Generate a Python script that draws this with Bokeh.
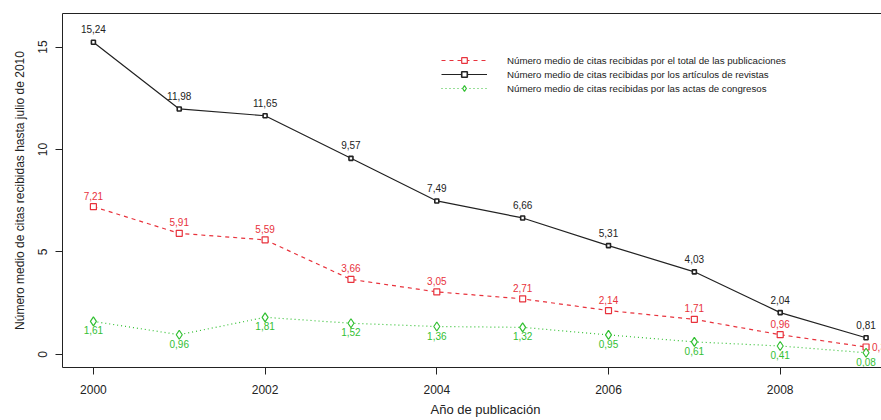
from bokeh.plotting import figure
from bokeh.models import (Range1d, FixedTicker, LinearAxis, Legend, LegendItem,
                          ColumnDataSource, Title)
from bokeh.core.properties import value
from bokeh.embed import file_html
from bokeh.resources import INLINE

# Publication years and mean citations received (up to July 2010)
years = [2000, 2001, 2002, 2003, 2004, 2005, 2006, 2007, 2008, 2009]
total_pubs = [7.21, 5.91, 5.59, 3.66, 3.05, 2.71, 2.14, 1.71, 0.96, 0.36]
journal_articles = [15.24, 11.98, 11.65, 9.57, 7.49, 6.66, 5.31, 4.03, 2.04, 0.81]
conference_papers = [1.61, 0.96, 1.81, 1.52, 1.36, 1.32, 0.95, 0.61, 0.41, 0.08]

x_ticks = [2000, 2002, 2004, 2006, 2008]
y_ticks = [0, 5, 10, 15]

legend_labels = [
    "Número medio de citas recibidas por el total de las publicaciones",
    "Número medio de citas recibidas por los artículos de revistas",
    "Número medio de citas recibidas por las actas de congresos",
]
x_title = "Año de publicación"
y_title = "Número medio de citas recibidas hasta julio de 2010"

FONT = "Liberation Sans"
INK = "#222222"
RED = "#e8323c"
GREEN = "#33c033"


def fmt(v):
    return f"{v:.2f}".replace(".", ",")


p = figure(width=881, height=420, output_backend="svg", toolbar_location=None,
           x_range=Range1d(1999.64, 2009.18), y_range=Range1d(-0.64, 16.64),
           min_border_left=62, min_border_right=0, min_border_top=13,
           min_border_bottom=53)
p.outline_line_color = None
p.xgrid.visible = False
p.ygrid.visible = False
p.background_fill_color = "white"
p.border_fill_color = "white"

# Axes styled like a base-graphics plot
for ax in (p.xaxis[0], p.yaxis[0]):
    ax.axis_line_color = INK
    ax.major_tick_line_color = INK
    ax.major_tick_out = 7
    ax.major_tick_in = 0
    ax.minor_tick_line_color = None
    ax.major_label_text_font = FONT
    ax.major_label_text_font_size = "12px"
    ax.major_label_text_color = INK
    ax.axis_label_text_font = FONT
    ax.axis_label_text_font_size = "12px"
    ax.axis_label_text_font_style = "normal"
    ax.axis_label_text_color = INK

p.xaxis[0].ticker = FixedTicker(ticks=x_ticks)
p.xaxis[0].major_label_standoff = 10

p.yaxis[0].ticker = FixedTicker(ticks=y_ticks)
p.yaxis[0].major_label_orientation = "vertical"
p.yaxis[0].major_label_standoff = 8
p.yaxis[0].axis_label = y_title
p.yaxis[0].axis_label_standoff = 9

# Top edge of the plot box
top = LinearAxis(ticker=FixedTicker(ticks=[]), axis_line_color=INK,
                 major_tick_line_color=None, minor_tick_line_color=None)
p.add_layout(top, "above")

# X axis title, centred under the (wider) plot region
p.add_layout(Title(text=x_title, align="left", offset=368, standoff=6,
                   text_font=FONT, text_font_size="13px",
                   text_font_style="normal", text_color=INK), "below")

src = ColumnDataSource(dict(
    year=years,
    total=total_pubs,
    journal=journal_articles,
    conf=conference_papers,
    journal_lbl=[fmt(v) for v in journal_articles],
    conf_lbl=[fmt(v) for v in conference_papers],
))

# Series lines and markers
r_red_l = p.line("year", "total", source=src, line_color=RED, line_width=1.2,
                 line_dash="4 4")
r_red_m = p.scatter("year", "total", source=src, marker="square", size=6,
                    line_color=RED, fill_color="white", line_width=1.2)

r_blk_l = p.line("year", "journal", source=src, line_color=INK, line_width=1.2)
r_blk_m = p.scatter("year", "journal", source=src, marker="square", size=4,
                    line_color=INK, fill_color="white", line_width=1.6)

r_grn_l = p.line("year", "conf", source=src, line_color=GREEN, line_width=1.2,
                 line_dash="1 3")
r_grn_m = p.scatter("year", "conf", source=src, marker="diamond", size=9,
                    line_color=GREEN, fill_color="white", line_width=1.2)

# Value labels
lbl = dict(text_font=value(FONT), text_font_size="10px", text_align="center",
           text_baseline="middle")
p.text("year", "journal", text="journal_lbl", source=src, y_offset=-13,
       text_color=INK, **lbl)

red_main = ColumnDataSource(dict(year=years[:-1], total=total_pubs[:-1],
                                 lbl=[fmt(v) for v in total_pubs[:-1]]))
p.text("year", "total", text="lbl", source=red_main, y_offset=-11,
       text_color=RED, **lbl)
red_last = ColumnDataSource(dict(year=years[-1:], total=total_pubs[-1:],
                                 lbl=[fmt(v) for v in total_pubs[-1:]]))
p.text("year", "total", text="lbl", source=red_last, x_offset=6,
       text_color=RED, text_font=value(FONT), text_font_size="10px",
       text_align="left", text_baseline="middle")

p.text("year", "conf", text="conf_lbl", source=src, y_offset=9,
       text_color=GREEN, **lbl)

legend = Legend(items=[
    LegendItem(label=legend_labels[0], renderers=[r_red_l, r_red_m]),
    LegendItem(label=legend_labels[1], renderers=[r_blk_l, r_blk_m]),
    LegendItem(label=legend_labels[2], renderers=[r_grn_l, r_grn_m]),
], location=(379, 272), glyph_width=46, glyph_height=14, label_height=14,
    label_standoff=20, spacing=0, padding=0, margin=0,
    border_line_color=None, background_fill_alpha=0,
    label_text_font=FONT, label_text_font_size="9.7px", label_text_color=INK)
p.add_layout(legend, "center")

open("out.html", "w").write(file_html(p, INLINE))
